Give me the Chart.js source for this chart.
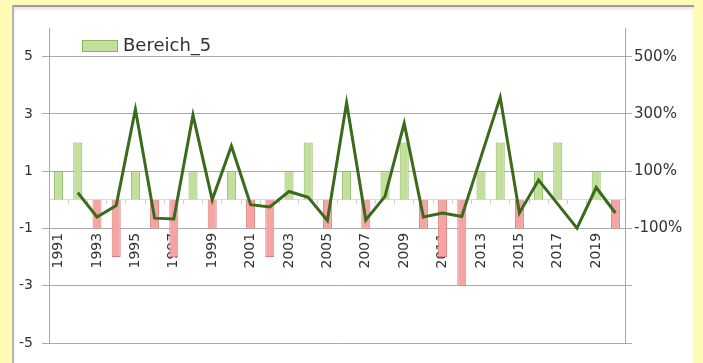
<!DOCTYPE html>
<html>
<head>
<meta charset="utf-8">
<script src="https://cdn.jsdelivr.net/npm/chart.js@4"></script>
<style>
  html, body { margin: 0; padding: 0; width: 703px; height: 363px; overflow: hidden; background: #fffab4; }
  #panel {
    position: absolute; left: 12px; top: 5px; width: 680px; height: 380px;
    background: #fff; border-top: 2px solid #9c9c9c; border-left: 2px solid #b4b4b4;
    box-shadow: inset 0 2px 3px rgba(0, 0, 0, 0.12);
  }
  #chart { position: absolute; left: 0; top: 0; }
</style>
</head>
<body>
<div id="panel"></div>
<canvas id="chart" width="703" height="363"></canvas>
<script>
// Jahre und Werte
const years = [1991, 1992, 1993, 1994, 1995, 1996, 1997, 1998, 1999, 2000,
               2001, 2002, 2003, 2004, 2005, 2006, 2007, 2008, 2009, 2010,
               2011, 2012, 2013, 2014, 2015, 2016, 2017, 2018, 2019, 2020];
const bereich5 = [1, 2, -1, -2, 1, -1, -2, 1, -1, 1,
                  -1, -2, 1, 2, -1, 1, -1, 1, 2, -1,
                  -2, -3, 1, 2, -1, 1, 2, 0, 1, -1];
// Veränderung in % (rechte Achse)
const aenderung = [null, 25, -60, -20, 316, -64, -67, 296, 0, 188,
                   -17, -25, 29, 9, -72, 339, -70, 12, 267, -60,
                   -46, -58, 150, 358, -46, 69, -15, -99, 43, -46];
const leftTicks = [5, 3, 1, -1, -3, -5];
const rightTicks = [500, 300, 100, -100, -300, -500];

const green = '#c3df9e', greenEdge = '#8cb85b';
const red = '#f5a4a4', redEdge = '#df7c7c';
const font = { family: '"DejaVu Sans", sans-serif', size: 14 };
const textColor = '#333';

// Legende oben links im Diagrammbereich
const legendBox = {
  id: 'legendBox',
  afterDraw(chart) {
    const c = chart.ctx;
    const x = chart.chartArea.left + 33, y = chart.chartArea.top + 12;
    c.save();
    c.fillStyle = green;
    c.fillRect(x, y, 36, 12);
    c.strokeStyle = greenEdge;
    c.lineWidth = 1;
    c.strokeRect(x + 0.5, y + 0.5, 35, 11);
    c.fillStyle = textColor;
    c.font = '18px "DejaVu Sans", sans-serif';
    c.textBaseline = 'middle';
    c.fillText(chart.data.datasets[1].label, x + 41, y + 6);
    c.restore();
  }
};

const ctx = document.getElementById('chart').getContext('2d');
new Chart(ctx, {
  data: {
    labels: years,
    datasets: [
      {
        type: 'line',
        label: 'Veränderung',
        data: aenderung,
        yAxisID: 'y2',
        borderColor: '#3b6a1c',
        borderWidth: 3,
        pointRadius: 0,
        tension: 0,
        order: 0
      },
      {
        type: 'bar',
        label: 'Bereich_5',
        data: bereich5,
        yAxisID: 'y',
        backgroundColor: bereich5.map(v => v < 0 ? red : green),
        borderColor: bereich5.map(v => v < 0 ? redEdge : greenEdge),
        borderWidth: 1,
        barPercentage: 0.47,
        categoryPercentage: 1,
        order: 1
      }
    ]
  },
  options: {
    responsive: false,
    animation: false,
    devicePixelRatio: 1,
    layout: { padding: { top: 28, bottom: 20 } },
    plugins: { legend: { display: false }, tooltip: { enabled: false } },
    scales: {
      x: {
        position: { y: 0 },
        z: 1,
        afterFit: s => { s.height = 0; },
        grid: { drawOnChartArea: false, tickLength: 4, color: '#d0d0d0', offset: true },
        border: { color: '#dadada' },
        ticks: {
          autoSkip: false, minRotation: 90, maxRotation: 90, padding: 29,
          font: font, color: textColor,
          callback: (v, i) => i % 2 === 0 ? String(years[i]) : ''
        }
      },
      y: {
        position: 'left',
        min: -5, max: 6,
        afterBuildTicks: s => { s.ticks = leftTicks.map(v => ({ value: v })); },
        afterFit: s => { s.width = 49; },
        grid: { color: '#aaaaaa', tickLength: 7 },
        border: { color: '#a8a8a8' },
        ticks: { padding: 9, font: font, color: textColor }
      },
      y2: {
        position: 'right',
        min: -500, max: 600,
        afterBuildTicks: s => { s.ticks = rightTicks.map(v => ({ value: v })); },
        afterFit: s => { s.width = 78; },
        grid: { drawOnChartArea: false, color: '#aaaaaa', tickLength: 7 },
        border: { color: '#a8a8a8' },
        ticks: {
          padding: 2, font: { family: font.family, size: 15 }, color: textColor,
          callback: v => v >= -100 ? v + '%' : ''
        }
      }
    }
  },
  plugins: [legendBox]
});
</script>
</body>
</html>
